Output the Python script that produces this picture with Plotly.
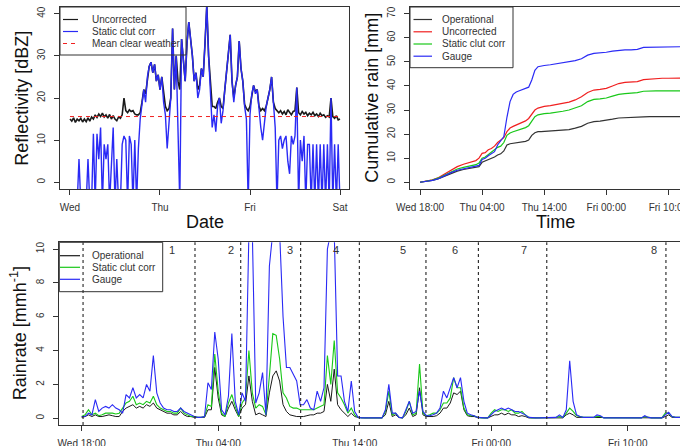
import plotly.graph_objects as go

W, H = 680, 446


def px(x):
    return x / W


def py(y):
    return 1 - y / H


# ---------------- DATA ----------------
# Top-left: reflectivity (dBZ), sampled every 0.02 day from Wed 00:00
tl_uncorrected = [
    15.0, 14.5, 15.3, 14.2, 15.0, 14.6, 15.2, 14.3, 15.0, 14.4,
    15.3, 14.5, 15.5, 15.0, 16.0, 15.4, 16.2, 15.6, 16.4, 15.5,
    16.0, 15.2, 16.1, 15.0, 15.8, 15.0, 14.6, 15.5, 15.2, 16.0,
    20.0, 17.0, 16.5, 17.2, 16.8, 17.0, 16.2, 16.0, 16.0, 16.5,
    19, 22, 21, 25, 27.5, 28.5, 26, 28, 24, 25.5,
    22, 25, 21, 18, 17, 17.5, 20, 36.5, 22, 30,
    24, 22, 34, 28, 24, 33, 38, 34, 30, 24,
    26, 22, 23, 27, 25, 33, 42, 30, 23, 18,
    18, 17.5, 19, 20, 18, 17.5, 22, 27, 30, 35,
    24, 20, 23, 25, 33.5, 27, 24, 18.5, 17.5, 17,
    18, 21, 23, 21.5, 22, 18, 17, 17.5, 17, 18,
    20, 22, 25, 19, 17.5, 17, 16.5, 17, 16.2, 16.8,
    16, 17.2, 16.5, 16, 16.8, 17, 22.5, 16.5, 16, 16.8,
    16.2, 16.6, 15.8, 16.4, 16, 16.6, 15.8, 16.2, 15.6, 16.4,
    15.8, 16, 15.4, 15.8, 15.5, 20, 15.6, 15.2, 15.8, 14.8,
    15.0,
]
tl_static = [
    -5, -5, -5, -5, -5, 5.5, -5, -5, -5, -5,
    5.5, -5, -5, 11.5, -5, 11.5, 5.5, 13, -5, 9,
    5.5, 9, -5, 5.5, 13, -5, 5.5, -5, -5, 9,
    11, 10, -5, 11, 9, -5, 10, -5, 8, 15,
    18, 22, 19, 25, 27.5, 28.5, 26, 28, 24, 25.5,
    22, 25, 19, 16, 8, 13, 20, 36.5, 22, 30,
    14, -5, 34, 28, 24, 33, 38, 34, 30, 24,
    26, 20, 22, 27, 25, 33, 42, 30, 22, 13,
    16, 12, 18, 20, 14, 17, 22, 27, 30, 35,
    24, 19, 23, 25, 33.5, 27, 24, 18, 15, -5,
    16, 21, 23, 21, 22, 17, 13, 10, 15, 18,
    20, 22, 25, 19, 13, -5, 10, 11, 8, 10,
    11, 5, 2, 11, 9, 11, 22.5, -5, 10, 5,
    11, -5, 9, 9, -5, 9, -5, 9, -5, 9,
    -5, 9, -5, 9, -5, 20, -5, 9, -5, 9,
    -5,
]
tl_days = [i * 0.02 for i in range(len(tl_static))]
tl_mean_clear = 15.6
tl_tick_vals = [0, 1, 2, 3]
tl_tick_text = ["Wed", "Thu", "Fri", "Sat"]

# Top-right: cumulative rain (mm), hours since Wed 18:00
tr_hours = [0, 1, 2, 3, 4, 5, 6, 7, 8, 9,
            9.5, 10, 10.5, 11, 11.5, 12, 12.5, 13, 13.5, 14, 14.5,
            15, 15.5, 16, 16.5, 17, 17.5, 18, 18.5, 19, 19.5, 20,
            21, 22, 23, 24, 25, 26, 27, 28, 29, 30, 31, 32, 33, 34,
            35, 36, 37, 38, 39, 40, 41, 42]
tr_operational = [0, 0.3, 0.8, 1.5, 2.6, 3.7, 4.6, 5.3, 5.7, 6.0,
                  6.5, 8.3, 8.8, 9.3, 9.8, 10.5, 11.3, 11.8, 13.0, 15.5, 16.0,
                  16.2, 16.3, 16.5, 16.7, 17.0, 17.5, 19.5, 20.6, 21.0, 21.0, 21.1,
                  21.2, 21.4, 21.6, 21.9, 22.5, 23.2, 24.5, 25.2, 25.4, 25.7, 26.2,
                  26.7, 26.9, 27.0, 27.0, 27.2, 27.3, 27.3, 27.3, 27.3, 27.3, 27.3]
tr_uncorrected = [0, 0.4, 1.0, 2.0, 3.5, 5.0, 6.5, 7.5, 8.3, 9.0,
                  10.0, 12.0, 12.3, 13.5, 14.0, 15.0, 16.5, 17.5, 18.5, 21.0, 22.5,
                  23.2, 23.7, 24.3, 25.0, 25.5, 26.5, 28.5, 30.0, 30.8, 31.2, 31.5,
                  31.8, 32.2, 32.7, 33.3, 34.2, 35.5, 37.3, 38.3, 38.6, 39.0, 40.0,
                  41.0, 41.5, 41.6, 41.8, 42.6, 42.9, 43.1, 43.2, 43.2, 43.2, 43.3]
tr_static = [0, 0.3, 0.9, 1.8, 3.0, 4.3, 5.5, 6.2, 6.8, 7.3,
             8.0, 10.0, 10.5, 11.5, 12.2, 13.3, 14.5, 15.0, 16.5, 19.5, 20.5,
             21.0, 21.4, 21.8, 22.3, 22.7, 23.5, 25.5, 27.2, 28.0, 28.3, 28.5,
             28.7, 29.0, 29.5, 30.0, 30.8, 31.8, 33.5, 34.4, 34.6, 35.0, 35.8,
             36.5, 36.8, 37.0, 37.2, 37.8, 38.0, 38.0, 38.0, 38.0, 38.0, 38.0]
tr_gauge = [0, 0.3, 0.8, 1.5, 2.8, 4.0, 5.0, 5.5, 6.0, 6.5,
            7.0, 9.5, 10.0, 11.0, 11.8, 12.7, 15.5, 17.5, 19.0, 27.0, 33.5,
            36.5, 37.5, 38.0, 38.5, 39.0, 39.5, 42.5, 46.5, 48.0, 48.3, 48.5,
            48.8, 49.2, 49.5, 50.0, 50.5, 51.3, 52.8, 53.5, 53.6, 54.0, 54.5,
            54.8, 55.0, 55.0, 55.2, 56.0, 56.1, 56.2, 56.2, 56.3, 56.3, 56.3]
time_tick_vals = [0, 10, 20, 30, 40]
time_tick_text = ["Wed 18:00", "Thu 04:00", "Thu 14:00", "Fri 00:00", "Fri 10:00"]

# Bottom: rain rate (mm/h) every 0.25 h since Wed 18:00
bot_gauge = [
    0.1, 0.1, 0.3, 0.2, 1.1, 0.4, 0.6, 0.7,
    0.6, 0.8, 0.6, 0.5, 0.3, 1.4, 1.2, 1.8,
    1.2, 1.4, 1.2, 2.0, 1.6, 3.7, 1.5, 0.9,
    0.6, 0.5, 0.5, 0.4, 0.4, 0.6, 0.4, 0.3,
    0.2, 0.1, 0.05, 0.05, 0.1, 2.1, 1.7, 5.1,
    3.5, 0.5, 0.2, 1.3, 5.0, 1.0, 0.2, 1.5,
    1.0, 11, 11, 0.9, 1.5, 2.7, 0.2, 9.0,
    11, 11, 11, 6.0, 3.0, 3.0, 2.6, 2.2,
    0.8, 0.8, 1.1, 0.6, 0.5, 1.6, 1.0, 1.8,
    10.0, 11, 11, 2.5, 2.5, 1.0, 0.4, 2.2,
    0.4, 0.05, 0.02, 0.02, 0.02, 0.02, 0.02, 0.02,
    0.02, 0.5, 2.0, 0.3, 0.3, 0.05, 0.02, 0.5,
    1.0, 0.3, 0.4, 1.6, 0.4, 0.15, 0.15, 0.2,
    0.3, 0.6, 1.6, 1.2, 1.8, 2.4, 1.8, 2.4,
    1.0, 0.3, 0.2, 0.15, 0.05, 0.02, 0.02, 0.02,
    0.2, 0.4, 0.5, 0.6, 0.5, 0.6, 0.5, 0.4,
    0.4, 0.3, 0.2, 0.05, 0.02, 0.02, 0.02, 0.02,
    0.02, 0.02, 0.02, 0.05, 0.2, 0.05, 0.5, 3.4,
    1.0, 0.2, 0.1, 0.05, 0.05, 0.05, 0.05, 0.2,
    0.15, 0.02, 0.02, 0.02, 0.02, 0.02, 0.02, 0.02,
    0.02, 0.02, 0.02, 0.02, 0.02, 0.15, 0.05, 0.02,
    0.02, 0.02, 0.02, 0.2, 0.35, 0.1, 0.05, 0.05,
    0.05,
]
bot_static = [
    0.1, 0.2, 0.5, 0.2, 0.3, 0.15, 0.2, 0.3,
    0.3, 0.3, 0.25, 0.3, 0.6, 0.9, 1.0, 1.3,
    0.8, 0.9, 0.8, 1.0, 0.9, 1.3, 0.8, 0.6,
    0.5, 0.4, 0.4, 0.3, 0.3, 0.6, 0.3, 0.2,
    0.1, 0.1, 0.05, 0.05, 0.1, 0.8, 0.7, 3.8,
    1.6, 0.3, 0.1, 0.9, 1.4, 0.7, 0.1, 0.9,
    1.2, 4.0, 1.5, 0.6, 0.8, 0.7, 0.2, 2.5,
    5.0, 4.9, 3.5, 1.5, 1.2, 0.7, 0.6, 0.6,
    0.5, 0.5, 0.5, 0.5, 0.5, 0.6, 0.7, 0.8,
    3.7, 2.0, 4.6, 1.5, 1.2, 0.8, 0.3, 0.6,
    0.2, 0.05, 0.02, 0.02, 0.02, 0.02, 0.02, 0.02,
    0.02, 0.4, 1.6, 0.2, 0.3, 0.05, 0.02, 0.4,
    1.0, 0.2, 0.3, 3.2, 0.3, 0.15, 0.2, 0.3,
    0.3, 0.5, 0.9, 0.9, 1.2, 2.4, 1.8, 1.8,
    0.6, 0.2, 0.15, 0.15, 0.05, 0.02, 0.02, 0.02,
    0.3, 0.5, 0.4, 0.5, 0.5, 0.4, 0.5, 0.3,
    0.3, 0.4, 0.2, 0.05, 0.02, 0.02, 0.02, 0.02,
    0.02, 0.02, 0.02, 0.05, 0.1, 0.05, 0.3, 0.6,
    0.4, 0.15, 0.1, 0.05, 0.05, 0.05, 0.05, 0.1,
    0.1, 0.02, 0.02, 0.02, 0.02, 0.02, 0.02, 0.02,
    0.02, 0.02, 0.02, 0.02, 0.02, 0.1, 0.05, 0.02,
    0.02, 0.02, 0.02, 0.3, 0.3, 0.1, 0.05, 0.05,
    0.05,
]
bot_operational = [
    0.05, 0.1, 0.2, 0.1, 0.2, 0.1, 0.1, 0.15,
    0.2, 0.15, 0.1, 0.1, 0.4, 0.6, 0.7, 0.8,
    0.6, 0.7, 0.6, 0.8, 0.7, 0.9, 0.6, 0.5,
    0.4, 0.3, 0.3, 0.2, 0.2, 0.4, 0.2, 0.1,
    0.1, 0.05, 0.05, 0.05, 0.05, 0.5, 0.5, 3.0,
    1.2, 0.2, 0.1, 0.6, 1.0, 0.5, 0.1, 0.6,
    0.8, 2.5, 1.0, 0.2, 0.3, 0.2, 0.1, 1.5,
    2.5, 2.8, 2.2, 0.8, 0.4, 0.2, 0.15, 0.1,
    0.1, 0.1, 0.15, 0.2, 0.2, 0.3, 0.3, 0.4,
    2.0, 1.0, 2.9, 0.8, 0.5, 0.3, 0.1, 0.3,
    0.1, 0.05, 0.02, 0.02, 0.02, 0.02, 0.02, 0.02,
    0.02, 0.2, 1.0, 0.1, 0.2, 0.05, 0.02, 0.2,
    0.6, 0.1, 0.2, 1.8, 0.2, 0.1, 0.1, 0.1,
    0.15, 0.3, 0.6, 0.6, 0.9, 1.5, 1.4, 1.6,
    0.5, 0.15, 0.1, 0.1, 0.05, 0.02, 0.02, 0.02,
    0.1, 0.2, 0.2, 0.3, 0.2, 0.3, 0.2, 0.2,
    0.1, 0.15, 0.1, 0.02, 0.02, 0.02, 0.02, 0.02,
    0.02, 0.02, 0.02, 0.02, 0.05, 0.02, 0.2, 0.3,
    0.2, 0.05, 0.05, 0.05, 0.05, 0.05, 0.05, 0.05,
    0.05, 0.02, 0.02, 0.02, 0.02, 0.02, 0.02, 0.02,
    0.02, 0.02, 0.02, 0.02, 0.02, 0.05, 0.02, 0.02,
    0.02, 0.02, 0.02, 0.1, 0.2, 0.05, 0.05, 0.05,
    0.05,
]
bot_hours = [i * 0.25 for i in range(len(bot_gauge))]
event_bounds = [0.1, 8.3, 11.65, 16.04, 20.34, 25.22, 29.06, 34.07, 42.8]
event_labels = ["1", "2", "3", "4", "5", "6", "7", "8"]
event_label_pos = [6.64, 10.96, 15.28, 18.65, 23.52, 27.35, 32.4, 41.93]

# ---------------- STYLE ----------------
FONT = "Liberation Sans, Arial, Helvetica, sans-serif"
BLACK = "#1a1a1a"
BLUE = "#2a2af5"
GREEN = "#19c819"
RED = "#f02020"
AX = "#333333"

fig = go.Figure()


def line(x, y, color, width, xa, ya, dash=None):
    fig.add_trace(go.Scatter(
        x=x, y=y, mode="lines", xaxis=xa, yaxis=ya,
        line=dict(color=color, width=width, dash=dash),
        hoverinfo="skip", showlegend=False))


# top-left
line(tl_days, tl_uncorrected, BLACK, 1.6, "x", "y")
line(tl_days, tl_static, BLUE, 1.4, "x", "y")
line([tl_days[0], tl_days[-1]], [tl_mean_clear, tl_mean_clear], RED, 1, "x", "y", "4px,4px")

# top-right
line(tr_hours, tr_operational, "#333333", 1.2, "x2", "y2")
line(tr_hours, tr_uncorrected, RED, 1.2, "x2", "y2")
line(tr_hours, tr_static, GREEN, 1.2, "x2", "y2")
line(tr_hours, tr_gauge, BLUE, 1.2, "x2", "y2")

# bottom
line(bot_hours, bot_operational, BLACK, 1, "x3", "y3")
line(bot_hours, bot_static, GREEN, 1.1, "x3", "y3")
line(bot_hours, bot_gauge, BLUE, 1.1, "x3", "y3")

shapes = []
annotations = []
for b in event_bounds:
    shapes.append(dict(type="line", xref="x3", yref="y3 domain", x0=b, x1=b, y0=0, y1=1,
                       line=dict(color="#222222", width=1.1, dash="3px,3px")))
for lab, pos in zip(event_labels, event_label_pos):
    annotations.append(dict(xref="x3", yref="y3", x=pos, y=9.95, text=lab, showarrow=False,
                            font=dict(family=FONT, size=11, color="#333333")))


def legend(box, sample_x, text_x, ys, entries):
    x0, x1, y0, y1 = box
    shapes.append(dict(type="rect", xref="paper", yref="paper",
                       x0=px(x0), x1=px(x1), y0=py(y1), y1=py(y0),
                       line=dict(color="#333333", width=1), fillcolor="rgba(0,0,0,0)"))
    for yy, (label, color, dash) in zip(ys, entries):
        shapes.append(dict(type="line", xref="paper", yref="paper",
                           x0=px(sample_x[0]), x1=px(sample_x[1]), y0=py(yy), y1=py(yy),
                           line=dict(color=color, width=1.2, dash=dash)))
        annotations.append(dict(xref="paper", yref="paper", x=px(text_x), y=py(yy),
                                xanchor="left", yanchor="middle", text=label, showarrow=False,
                                font=dict(family=FONT, size=10, color="#333333")))


legend((60, 186, 7, 55), (63, 78), 90, [19.5, 31.5, 43.5],
       [("Uncorrected", BLACK, None), ("Static clut corr", BLUE, None),
        ("Mean clear weather", RED, "4px,4px")])
legend((410, 513, 7, 67.7), (413.5, 432), 440, [19.5, 31.8, 44, 56.2],
       [("Operational", "#333333", None), ("Uncorrected", RED, None),
        ("Static clut corr", GREEN, None), ("Gauge", BLUE, None)])
legend((59.3, 162.7, 242.3, 291.7), (60, 80), 90, [255.7, 267.3, 279.3],
       [("Operational", BLACK, None), ("Static clut corr", GREEN, None),
        ("Gauge", BLUE, None)])

# axis titles
TF = dict(family=FONT, size=18, color="#111111")
annotations += [
    dict(xref="paper", yref="paper", x=px(21.7), y=py(98), text="Reflectivity [dBZ]",
         textangle=-90, showarrow=False, font=TF, xanchor="center", yanchor="middle"),
    dict(xref="paper", yref="paper", x=px(204.5), y=py(222), text="Date",
         showarrow=False, font=TF, xanchor="center", yanchor="middle"),
    dict(xref="paper", yref="paper", x=px(371.7), y=py(98), text="Cumulative rain [mm]",
         textangle=-90, showarrow=False, font=TF, xanchor="center", yanchor="middle"),
    dict(xref="paper", yref="paper", x=px(555), y=py(222), text="Time",
         showarrow=False, font=TF, xanchor="center", yanchor="middle"),
    dict(xref="paper", yref="paper", x=px(18.3), y=py(333), text="Rainrate [mmh<sup>-1</sup>]",
         textangle=-90, showarrow=False, font=TF, xanchor="center", yanchor="middle"),
]

TICKF = dict(family=FONT, size=10, color="#333333")
xbase = dict(showgrid=False, zeroline=False, showline=True, linecolor=AX, linewidth=1,
             ticks="outside", ticklen=5, tickcolor=AX, tickfont=TICKF, mirror=True,
             automargin=False, ticklabelstandoff=4, ticklabeloverflow="allow")
ybase = dict(showgrid=False, zeroline=False, showline=True, linecolor=AX, linewidth=1,
             ticks="outside", ticklen=5, tickcolor=AX, tickfont=TICKF, tickangle=-90,
             automargin=False, ticklabelstandoff=5)

fig.update_layout(
    width=W, height=H, margin=dict(l=0, r=0, t=0, b=0),
    paper_bgcolor="white", plot_bgcolor="white", showlegend=False,
    font=dict(family=FONT),
    xaxis=dict(xbase, domain=[px(60), px(349)], anchor="y", range=[-0.111, 3.1],
               tickvals=tl_tick_vals, ticktext=tl_tick_text),
    yaxis=dict(ybase, domain=[py(189), py(7)], anchor="x", range=[-1.6, 41.6],
               tickvals=[0, 10, 20, 30, 40], mirror=True),
    xaxis2=dict(xbase, domain=[px(410), 1.0], anchor="y2", range=[-1.61, 41.87],
                tickvals=time_tick_vals, ticktext=time_tick_text),
    yaxis2=dict(ybase, domain=[py(189), py(7)], anchor="x2", range=[-2.8, 72.8],
                tickvals=[0, 10, 20, 30, 40, 50, 60, 70]),
    xaxis3=dict(xbase, domain=[px(59.3), 1.0], anchor="y3", range=[-1.64, 43.83],
                tickvals=time_tick_vals, ticktext=time_tick_text),
    yaxis3=dict(ybase, domain=[py(425), py(242.3)], anchor="x3", range=[-0.4, 10.4],
                tickvals=[0, 2, 4, 6, 8, 10]),
    shapes=shapes, annotations=annotations,
)

fig.write_html("out.html")
